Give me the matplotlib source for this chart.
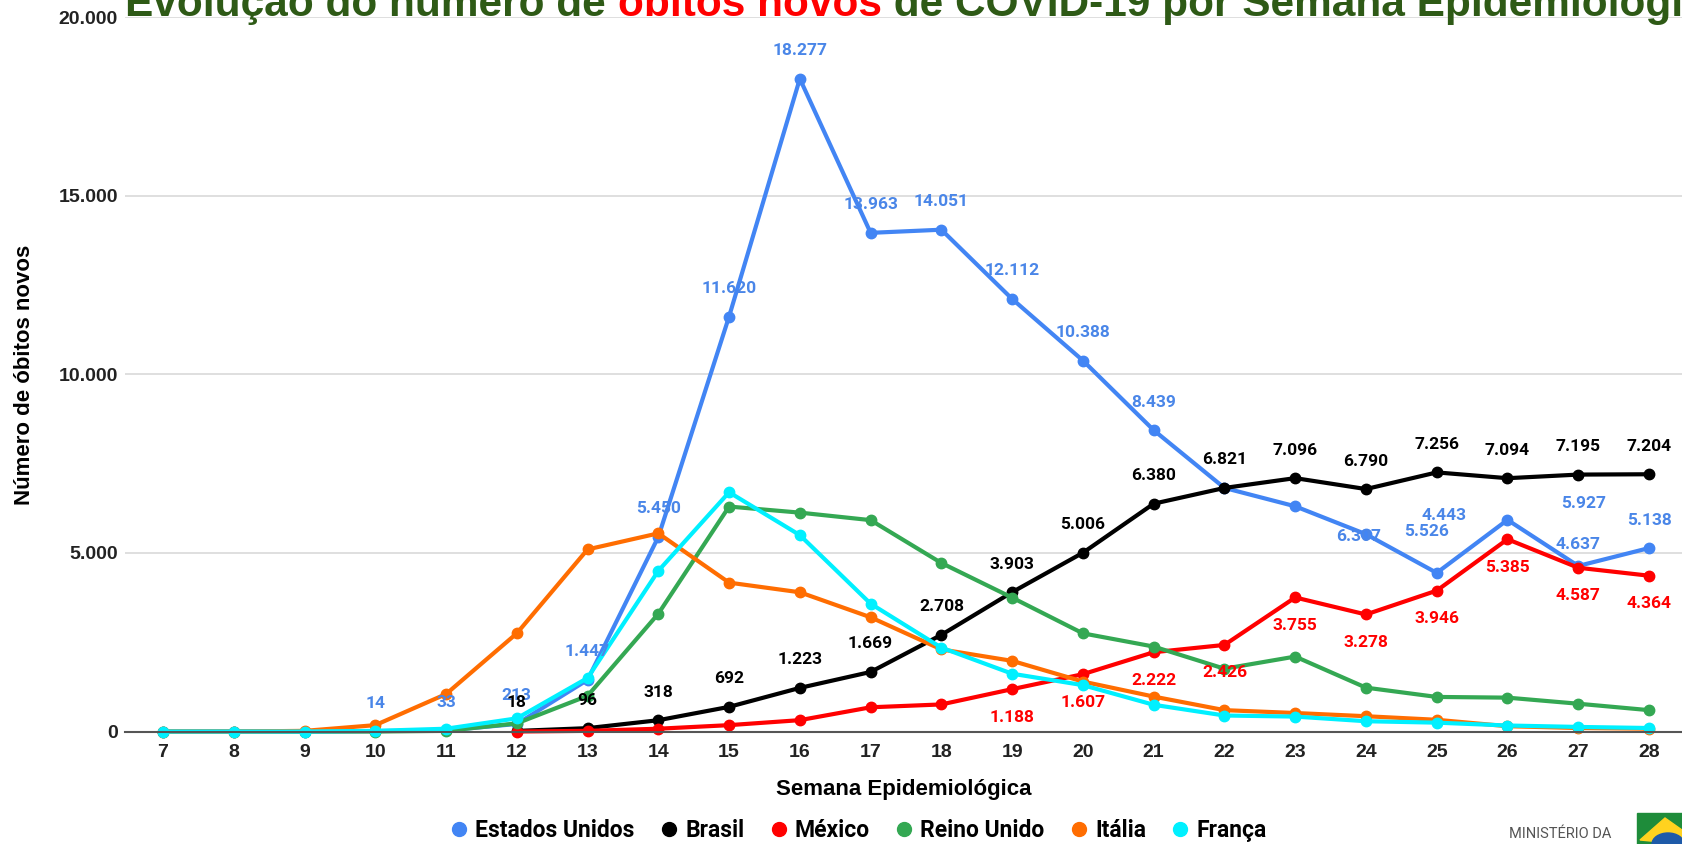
import numpy as np
import matplotlib
matplotlib.use("Agg")
import matplotlib.pyplot as plt
from matplotlib.lines import Line2D
from matplotlib.patches import Rectangle, Polygon, Ellipse
from matplotlib.ticker import FuncFormatter

# semanas epidemiologicas
semanas = list(range(7, 29))

nan = np.nan
eua = [0, 0, 1, 14, 33, 213, 1447, 5450, 11620, 18277, 13963, 14051, 12112,
       10388, 8439, 6821, 6307, 5526, 4443, 5927, 4637, 5138]
brasil = [nan, nan, nan, nan, nan, 18, 96, 318, 692, 1223, 1669, 2708, 3903,
          5006, 6380, 6821, 7096, 6790, 7256, 7094, 7195, 7204]
mexico = [nan, nan, nan, nan, nan, 2, 20, 80, 180, 320, 680, 760, 1188,
          1607, 2222, 2426, 3755, 3278, 3946, 5385, 4587, 4364]
reino_unido = [0, 0, 0, 2, 20, 230, 1000, 3300, 6300, 6130, 5920, 4720, 3750,
               2750, 2380, 1760, 2100, 1230, 970, 950, 780, 600]
italia = [0, 0, 20, 180, 1050, 2750, 5100, 5550, 4170, 3900, 3200, 2300, 1980,
          1400, 980, 600, 520, 430, 330, 150, 100, 80]
franca = [0, 0, 2, 20, 80, 370, 1500, 4500, 6700, 5500, 3580, 2350, 1620,
          1300, 750, 450, 420, 290, 250, 170, 130, 100]

# semanas com rotulo visivel
rot_eua = list(range(10, 22)) + list(range(23, 29))
rot_brasil = list(range(12, 29))
rot_mexico = list(range(19, 29))

# deslocamentos especiais dos rotulos (pixels)
desl_eua = {23: (63, -30), 24: (61, 3), 25: (7, 57), 26: (76, 16), 27: (0, 21)}

cor_eua = "#4285F4"
cor_eua_txt = "#4A86E8"
cores = {
    "Estados Unidos": cor_eua,
    "Brasil": "#000000",
    "México": "#FF0000",
    "Reino Unido": "#34A853",
    "Itália": "#FF6D01",
    "França": "#00F0FF",
}
series = {
    "Estados Unidos": eua,
    "Brasil": brasil,
    "México": mexico,
    "Reino Unido": reino_unido,
    "Itália": italia,
    "França": franca,
}

plt.rcParams["font.family"] = ["Roboto", "DejaVu Sans"]
arial = ["Liberation Sans", "DejaVu Sans"]

fig = plt.figure(figsize=(16.82, 8.44), dpi=100)
ax = fig.add_axes([0.0743, 0.1332, 0.9257, 0.8464])

for nome, vals in series.items():
    ax.plot(semanas, vals, color=cores[nome], lw=3.0, marker="o", ms=7.5,
            solid_joinstyle="round", clip_on=False)

def fmt(v):
    return f"{int(v):,}".replace(",", ".")

lbl = dict(fontsize=12.5, fontweight="bold", ha="center", va="center",
           textcoords="offset pixels")
for s in rot_eua:
    v = eua[s - 7]
    dx, dy = desl_eua.get(s, (0, 28))
    ax.annotate(fmt(v), (s, v), xytext=(dx, dy), color=cor_eua_txt, **lbl)
for s in rot_brasil:
    v = brasil[s - 7]
    ax.annotate(fmt(v), (s, v), xytext=(0, 28), color="#000000", **lbl)
for s in rot_mexico:
    v = mexico[s - 7]
    ax.annotate(fmt(v), (s, v), xytext=(0, -28), color="#FF0000", **lbl)

ax.set_xlim(6.463, 28.466)
ax.set_ylim(0, 20000)
ax.set_xticks(semanas)
ax.set_yticks([0, 5000, 10000, 15000, 20000])
ax.yaxis.set_major_formatter(FuncFormatter(lambda v, p: fmt(v)))
ax.tick_params(length=0, labelsize=14, colors="#222222")
ax.tick_params(axis="x", pad=9)
ax.tick_params(axis="y", pad=5)
for t in ax.get_xticklabels() + ax.get_yticklabels():
    t.set_fontweight("bold")
    t.set_family(arial)
ax.grid(axis="y", color="#d9d9d9", lw=1.2)
ax.set_axisbelow(True)
for sp in ["top", "right", "left"]:
    ax.spines[sp].set_visible(False)
ax.spines["bottom"].set_color("#555555")
ax.spines["bottom"].set_linewidth(1.5)

ax.set_xlabel("Semana Epidemiológica", fontsize=16, fontweight="bold",
              family=arial)
ax.xaxis.set_label_coords(0.5, -0.066)
ax.set_ylabel("Número de óbitos novos", fontsize=16, fontweight="bold",
              family=arial)
ax.yaxis.set_label_coords(-0.058, 0.5)

handles = [Line2D([], [], ls="none", marker="o", ms=10, color=c) for c in cores.values()]
fig.legend(handles, list(cores.keys()), loc="center", ncol=6,
           bbox_to_anchor=(0.509, 0.0155), frameon=False,
           prop=dict(size=16.5, weight="bold", family=["Roboto", "DejaVu Sans"]),
           handletextpad=0.1, columnspacing=0.9, handlelength=1.2)

# titulo em partes (cortado no topo)
partes = [("Evolução do número de ", "#2E5A16"),
          ("óbitos novos", "#FF0000"),
          (" de COVID-19 por Semana Epidemiológica", "#2E5A16")]
fig.canvas.draw()
r = fig.canvas.get_renderer()
x = 125
for txt, c in partes:
    t = fig.text(x / 1682, 1 - 16 / 844, txt, color=c, fontsize=30.5,
                 fontweight="bold", va="baseline", ha="left", family=arial)
    bb = t.get_window_extent(renderer=r)
    x += bb.width

# logo do ministerio
fig.text(1560 / 1682, 1 - 834 / 844, "MINISTÉRIO DA", fontsize=10.5,
         color="#555555", ha="center", va="center")
fig.patches.append(Rectangle((1637 / 1682, 0), 45 / 1682, 31 / 844,
                             transform=fig.transFigure, color="#1E8C3A"))
fig.patches.append(Polygon([(1640 / 1682, 4 / 844), (1665 / 1682, 26 / 844),
                            (1682 / 1682, 14 / 844), (1682 / 1682, 0)],
                           transform=fig.transFigure, color="#FFD21F"))
fig.patches.append(Ellipse((1668 / 1682, 0), 32 / 1682, 22 / 844,
                           transform=fig.transFigure, color="#1E5AA8"))

fig.savefig("out.png", dpi=100)
